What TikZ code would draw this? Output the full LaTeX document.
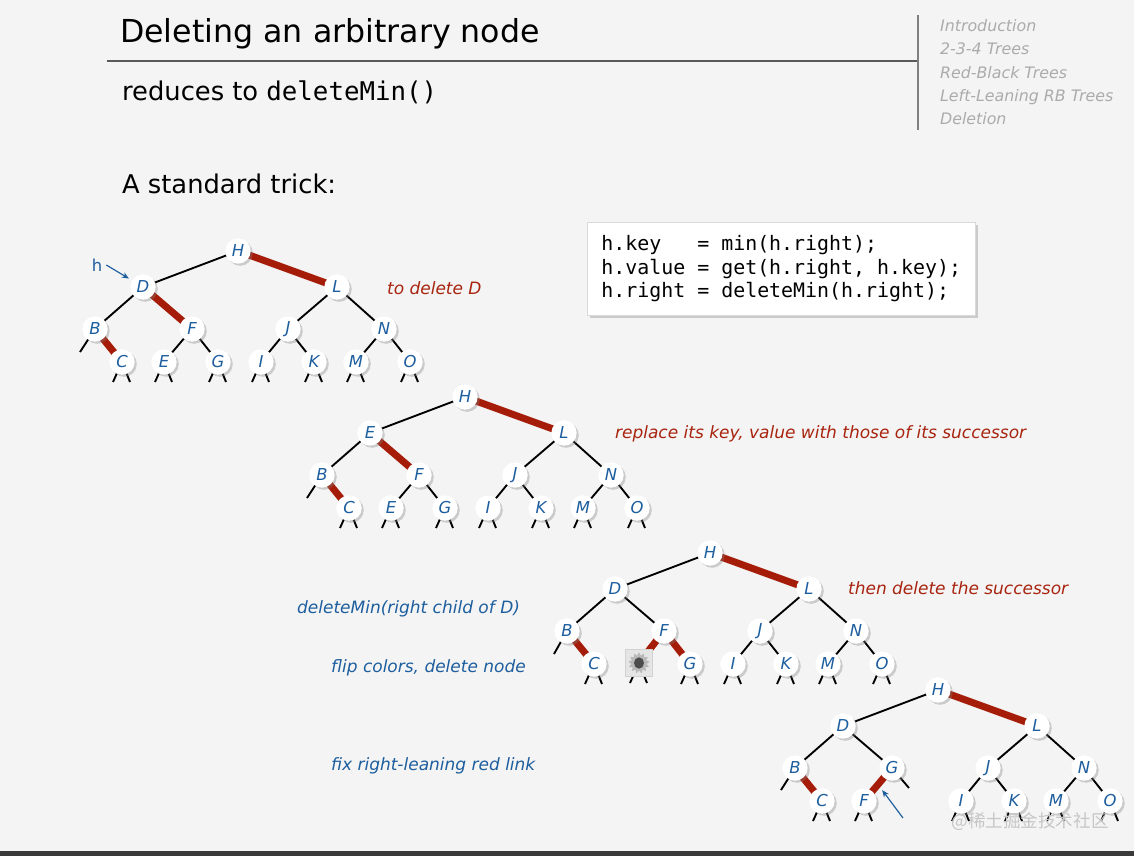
\documentclass[tikz,border=0pt]{standalone}
\usepackage{fontspec}
\setmainfont{DejaVu Sans}
\setsansfont{DejaVu Sans}
\setmonofont{DejaVu Sans Mono}
\newfontfamily\cjkfont{Noto Sans CJK SC}
\usetikzlibrary{arrows.meta,shadows,shapes.geometric,calc}
\definecolor{slidebg}{HTML}{F4F4F4}
\definecolor{rulegray}{HTML}{5A5A5A}
\definecolor{navgray}{HTML}{ABABAB}
\definecolor{keyblue}{HTML}{1D5E9E}
\definecolor{notered}{HTML}{A8240F}
\definecolor{linkred}{HTML}{A51D08}
\definecolor{barblack}{HTML}{3A3A3A}
\pgfdeclarelayer{slide}
\pgfdeclarelayer{links}
\pgfsetlayers{slide,links,main}
\tikzset{
  treenode/.style={circle, fill=white, minimum size=0.76cm, inner sep=0pt,
    drop shadow={shadow xshift=1.8pt, shadow yshift=-1.8pt, opacity=0.35},
    font=\fontsize{14}{14}\selectfont\itshape, text=keyblue},
  blacklink/.style={draw=black, line width=1.6pt},
  redlink/.style={draw=linkred, line width=6pt},
  stepnote/.style={anchor=west, font=\fontsize{14.5}{18}\selectfont\itshape},
  ptr/.style={draw=keyblue, line width=1pt, -{Stealth[length=6pt,width=5pt]}},
  codebox/.style={draw=gray!30, fill=white, align=left, minimum width=11.64cm,
    minimum height=2.79cm, drop shadow={shadow xshift=2pt, shadow yshift=-2pt, opacity=0.35},
    font=\ttfamily\fontsize{17}{20}\selectfont}
}

\begin{document}
\begin{tikzpicture}[x=0.03cm,y=-0.03cm]
\useasboundingbox (0,0) rectangle (1134,856);
\begin{pgfonlayer}{slide}
\fill[slidebg] (0,0) rectangle (1134,856);
\fill[barblack] (0,851) rectangle (1134,856);
\end{pgfonlayer}

% header
\node[anchor=base west] (title) at (116,42) {\fontsize{27}{30}\selectfont Deleting an arbitrary node};
\draw[rulegray, line width=1.2pt] (107,61) -- (917,61);
\draw[gray, line width=1.6pt] (918,15) -- (918,130);
\node[anchor=north west, align=left, text=navgray, font=\fontsize{13.5}{20}\selectfont\itshape] (navlist) at (936,15)
  {Introduction\\2-3-4 Trees\\Red-Black Trees\\Left-Leaning RB Trees\\Deletion};
\node[anchor=base west] (reduce) at (118,100) {\fontsize{22}{24}\selectfont reduces to \texttt{deleteMin()}};
\node[anchor=base west] (trick) at (118,193) {\fontsize{22}{24}\selectfont A standard trick:};

\node[codebox, anchor=north west] (code) at (587,222)
  {h.key\hphantom{xx} = min(h.right);\\h.value = get(h.right, h.key);\\h.right = deleteMin(h.right);};

% tree 1: to delete D
\begin{scope}[shift={(238,251)}]
  \foreach \n/\t/\px/\py in {H/H/0/0, D/D/-95/36, L/L/99/36, B/B/-143/78, F/F/-46/78, J/J/50/78, N/N/146/78,
      C/C/-116/111, E/E/-74/111, G/G/-20/111, I/I/23/111, K/K/76/111, M/M/118/111, O/O/172/111}
    \node[treenode] (a\n) at (\px,\py) {\t};
\end{scope}
\node[text=keyblue, font=\fontsize{14}{14}\selectfont] (hptr) at (97,265) {h};
\draw[ptr, shorten >=3pt] (hptr.east) -- (aD);
\node[stepnote, text=notered] (del) at (383,288) {to delete D};

% tree 2: successor copied up
\begin{scope}[shift={(465,397)}]
  \foreach \n/\t/\px/\py in {H/H/0/0, E/E/-95/36, L/L/99/36, B/B/-143/78, F/F/-46/78, J/J/50/78, N/N/146/78,
      C/C/-116/111, e/E/-74/111, G/G/-20/111, I/I/23/111, K/K/76/111, M/M/118/111, O/O/172/111}
    \node[treenode] (b\n) at (\px,\py) {\t};
\end{scope}
\node[stepnote, text=notered] (repl) at (611,434) {replace its key, value with those of its successor};

% tree 3: deleteMin on the right subtree
\begin{scope}[shift={(710,553)}]
  \foreach \n/\t/\px/\py in {H/H/0/0, D/D/-95/36, L/L/99/36, B/B/-143/78, F/F/-46/78, J/J/50/78, N/N/146/78,
      C/C/-116/111, G/G/-20/111, I/I/23/111, K/K/76/111, M/M/118/111, O/O/172/111}
    \node[treenode] (c\n) at (\px,\py) {\t};
  \node[fill=gray!20, draw=gray!35, minimum size=0.82cm, inner sep=0pt] (cX) at (-71,110) {};
\end{scope}
\node[star, star points=13, star point ratio=1.4, fill=gray!55, minimum size=0.64cm, inner sep=0pt] (cXstar) at (cX) {};
\node[ellipse, fill=black!70, minimum width=0.3cm, minimum height=0.34cm, inner sep=0pt] (cXhole) at (cX) {};
\node[stepnote, text=notered] (then) at (844,588) {then delete the successor};
\node[stepnote, text=keyblue] (dmin) at (293,609) {deleteMin(right child of D)};
\node[stepnote, text=keyblue] (flip) at (327,668) {flip colors, delete node};

% tree 4: rotate left at G
\begin{scope}[shift={(938,690)}]
  \foreach \n/\t/\px/\py in {H/H/0/0, D/D/-95/36, L/L/99/36, B/B/-143/78, G/G/-46/78, J/J/50/78, N/N/146/78,
      C/C/-116/111, F/F/-74/111, I/I/23/111, K/K/76/111, M/M/118/111, O/O/172/111}
    \node[treenode] (d\n) at (\px,\py) {\t};
\end{scope}
\node[stepnote, text=keyblue] (fix) at (327,766) {fix right-leaning red link};
\coordinate (fixtail) at (903,818);
\draw[ptr, shorten >=6pt] (fixtail) -- ($(dG)!0.5!(dF)$);

\node[text=gray!45, font=\cjkfont\fontsize{15}{15}\selectfont] (mark) at (1030,822) {@稀土掘金技术社区};

\begin{pgfonlayer}{links}
  % tree 1
  \draw[blacklink] (aH.center) -- (aD.center) (aD.center) -- (aB.center) (aL.center) -- (aJ.center)
    (aL.center) -- (aN.center) (aF.center) -- (aE.center) (aF.center) -- (aG.center)
    (aJ.center) -- (aI.center) (aJ.center) -- (aK.center) (aN.center) -- (aM.center) (aN.center) -- (aO.center);
  \draw[redlink] (aH.center) -- (aL.center) (aD.center) -- (aF.center) (aB.center) -- (aC.center);
  \draw[blacklink] (aB.center) -- ++(-15,23);
  \foreach \n in {C,E,G,I,K,M,O}
    \draw[blacklink] (a\n.center) -- ++(-9,20) (a\n.center) -- ++(8,20);
  % tree 2
  \draw[blacklink] (bH.center) -- (bE.center) (bE.center) -- (bB.center) (bL.center) -- (bJ.center)
    (bL.center) -- (bN.center) (bF.center) -- (be.center) (bF.center) -- (bG.center)
    (bJ.center) -- (bI.center) (bJ.center) -- (bK.center) (bN.center) -- (bM.center) (bN.center) -- (bO.center);
  \draw[redlink] (bH.center) -- (bL.center) (bE.center) -- (bF.center) (bB.center) -- (bC.center);
  \draw[blacklink] (bB.center) -- ++(-15,23);
  \foreach \n in {C,e,G,I,K,M,O}
    \draw[blacklink] (b\n.center) -- ++(-9,20) (b\n.center) -- ++(8,20);
  % tree 3
  \draw[blacklink] (cH.center) -- (cD.center) (cD.center) -- (cB.center) (cD.center) -- (cF.center)
    (cL.center) -- (cJ.center) (cL.center) -- (cN.center)
    (cJ.center) -- (cI.center) (cJ.center) -- (cK.center) (cN.center) -- (cM.center) (cN.center) -- (cO.center);
  \draw[redlink] (cH.center) -- (cL.center) (cF.center) -- (cX.center) (cF.center) -- (cG.center) (cB.center) -- (cC.center);
  \draw[blacklink] (cB.center) -- ++(-13,23);
  \foreach \n in {C,X,G,I,K,M,O}
    \draw[blacklink] (c\n.center) -- ++(-9,20) (c\n.center) -- ++(8,20);
  % tree 4
  \draw[blacklink] (dH.center) -- (dD.center) (dD.center) -- (dB.center) (dD.center) -- (dG.center)
    (dL.center) -- (dJ.center) (dL.center) -- (dN.center)
    (dJ.center) -- (dI.center) (dJ.center) -- (dK.center) (dN.center) -- (dM.center) (dN.center) -- (dO.center);
  \draw[redlink] (dH.center) -- (dL.center) (dG.center) -- (dF.center) (dB.center) -- (dC.center);
  \draw[blacklink] (dB.center) -- ++(-14,22) (dG.center) -- ++(17,20);
  \foreach \n in {C,F,I,K,M,O}
    \draw[blacklink] (d\n.center) -- ++(-9,20) (d\n.center) -- ++(8,20);
\end{pgfonlayer}
\end{tikzpicture}
\end{document}
